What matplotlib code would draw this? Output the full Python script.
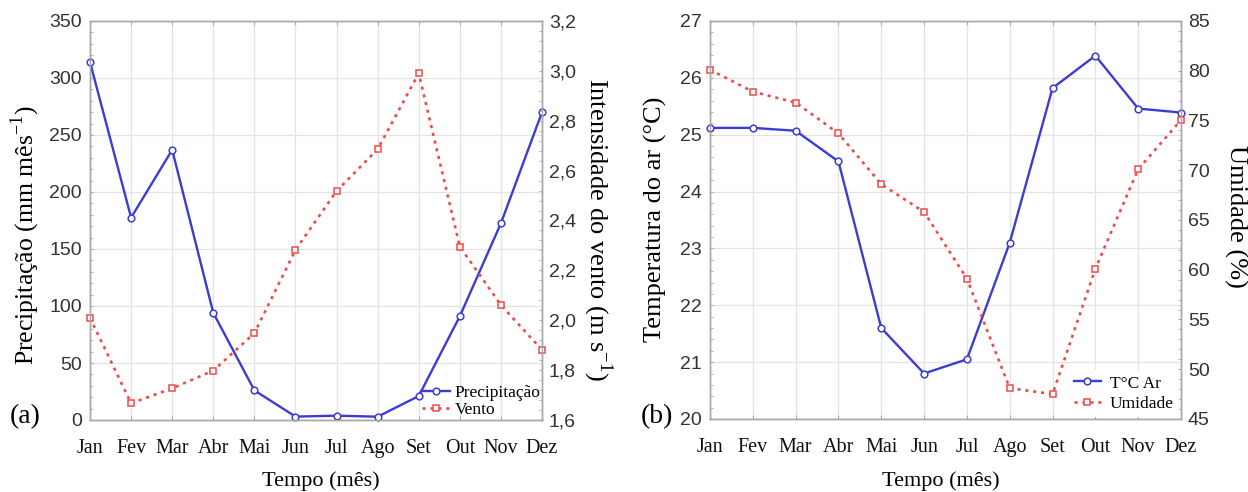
import matplotlib
matplotlib.use("Agg")
import matplotlib.pyplot as plt
from matplotlib.ticker import MultipleLocator, FuncFormatter, AutoMinorLocator

months = ["Jan", "Fev", "Mar", "Abr", "Mai", "Jun", "Jul", "Ago", "Set", "Out", "Nov", "Dez"]
precipitacao = [314, 177.5, 237, 94, 26, 3, 3.8, 2.9, 21, 91, 172.5, 270]
vento = [2.01, 1.667, 1.727, 1.798, 1.948, 2.282, 2.518, 2.686, 2.99, 2.295, 2.061, 1.881]
temperatura = [25.12, 25.12, 25.07, 24.53, 21.6, 20.8, 21.05, 23.1, 25.82, 26.39, 25.46, 25.39]
umidade = [80.1, 77.9, 76.8, 73.7, 68.6, 65.8, 59.1, 48.1, 47.5, 60.1, 70.1, 75.05]

BLUE = "#3c3cd4"
RED = "#f04a4a"
GRID = "#e3e3e3"
SPINE = "#a8a8a8"
SERIF = ["Liberation Serif", "DejaVu Serif"]
SANS = ["Liberation Sans", "DejaVu Sans"]
W, H = 1248, 492

fig = plt.figure(figsize=(12.48, 4.92), dpi=100)
ax1 = fig.add_axes([90/W, 72/H, 452/W, 399/H])
ax2 = fig.add_axes([710/W, 73/H, 471/W, 398/H])

x = list(range(len(months)))


def ftext(px, py, s, **kw):
    fig.text(px/W, 1 - py/H, s, fontfamily=SERIF, ha="center", va="center", **kw)


def style_axis(ax, tw):
    for a in (ax, tw):
        for s in a.spines.values():
            s.set_color(SPINE)
            s.set_linewidth(1.0)
    ax.set_xlim(0, 11)
    ax.set_xticks(x)
    ax.set_xticklabels(months, fontfamily=SERIF, fontsize=14.5, color="#111111")
    ax.tick_params(axis="x", which="both", direction="in", length=3, color=SPINE, pad=14, top=True)
    ax.tick_params(axis="y", which="both", direction="in", length=2, color=SPINE, labelsize=14,
                   labelcolor="#333333", pad=6)
    tw.tick_params(axis="y", which="both", direction="in", length=2, color=SPINE, labelsize=14,
                   labelcolor="#333333", pad=5)
    for lab in ax.get_yticklabels() + tw.get_yticklabels():
        lab.set_fontfamily(SANS)
    ax.grid(True, color=GRID, linewidth=0.9)
    ax.set_axisbelow(True)
    ax.yaxis.set_minor_locator(AutoMinorLocator(5))
    tw.yaxis.set_minor_locator(AutoMinorLocator(5))


LINE_KW = dict(ms=4.8, mfc="white", mew=1.1, clip_on=False)

# Panel (a)
tw1 = ax1.twinx()
ax1.set_ylim(0, 350)
ax1.yaxis.set_major_locator(MultipleLocator(50))
tw1.set_ylim(1.6, 3.2)
tw1.yaxis.set_major_locator(MultipleLocator(0.2))
tw1.yaxis.set_major_formatter(FuncFormatter(lambda v, p: f"{v:.1f}".replace(".", ",")))
l1, = ax1.plot(x, precipitacao, color=BLUE, lw=1.7, marker="o", mec=BLUE,
               label="Precipitação", zorder=3, **LINE_KW)
l2, = tw1.plot(x, vento, color=RED, lw=1.9, ls=(0, (1.2, 1.8)), marker="s", mec=RED,
               label="Vento", zorder=2, **LINE_KW)
style_axis(ax1, tw1)
ftext(25, 235, "Precipitação (mm mês$^{\\mathregular{-1}}$)", fontsize=18.5, rotation=90)
ftext(598, 229, "Intensidade do vento (m s$^{\\mathregular{-1}}$)", fontsize=19, rotation=270)
ftext(321, 481, "Tempo (mês)", fontsize=16)
ftext(25, 417, "(a)", fontsize=20)
tw1.legend(handles=[l1, l2], loc="lower right", bbox_to_anchor=(1.0, 0.0), frameon=False,
           prop={"family": SERIF, "size": 12.5}, handlelength=1.6, handletextpad=0.25,
           labelspacing=0.05, borderaxespad=0.0, borderpad=0.1)

# Panel (b)
tw2 = ax2.twinx()
ax2.set_ylim(20, 27)
ax2.yaxis.set_major_locator(MultipleLocator(1))
tw2.set_ylim(45, 85)
tw2.yaxis.set_major_locator(MultipleLocator(5))
l3, = ax2.plot(x, temperatura, color=BLUE, lw=1.7, marker="o", mec=BLUE,
               label="T°C Ar", zorder=3, **LINE_KW)
l4, = tw2.plot(x, umidade, color=RED, lw=1.9, ls=(0, (1.2, 1.8)), marker="s", mec=RED,
               label="Umidade", zorder=2, **LINE_KW)
style_axis(ax2, tw2)
ftext(655, 219, "Temperatura do ar (°C)", fontsize=19, rotation=90)
ftext(1236, 216, "Umidade (%)", fontsize=19, rotation=270)
ftext(941, 481, "Tempo (mês)", fontsize=16)
ftext(657, 417, "(b)", fontsize=20)
tw2.legend(handles=[l3, l4], loc="lower right", bbox_to_anchor=(1.0, 0.0), frameon=True,
           facecolor="white", edgecolor="none", framealpha=1.0, fancybox=False,
           prop={"family": SERIF, "size": 12.5}, handlelength=1.6, handletextpad=0.5,
           labelspacing=0.25, borderaxespad=0.1, borderpad=0.3)

fig.savefig("out.png", dpi=100)
